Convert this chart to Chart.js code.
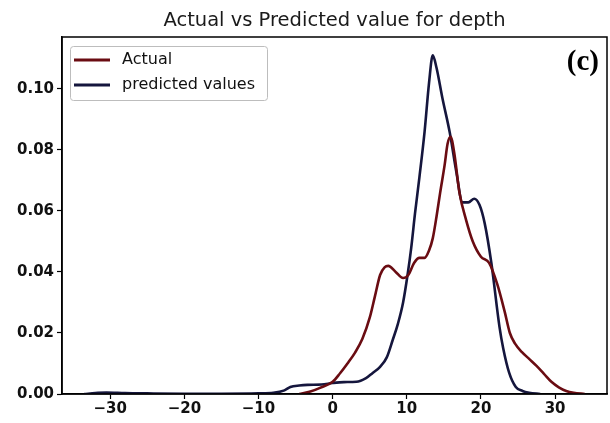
<!DOCTYPE html>
<html>
<head>
<meta charset="utf-8">
<script src="https://cdn.jsdelivr.net/npm/chart.js@4/dist/chart.umd.min.js"></script>
<style>
  html, body { margin: 0; padding: 0; background: #fff; }
  #wrap { width: 610px; height: 423px; }
</style>
</head>
<body>
<div id="wrap"><canvas id="c" width="610" height="423"></canvas></div>
<script>
const titleText = 'Actual vs Predicted value for depth';
const panelLabel = '(c)';
const seriesNames = ['Actual', 'predicted values'];
const xTicks = [-30, -20, -10, 0, 10, 20, 30];
const yTicks = [0, 0.02, 0.04, 0.06, 0.08, 0.10];

const actualX = [-4.5, -3, -1.7, 0, 1, 2, 3, 4, 5, 5.7, 6.4, 7.0, 7.5, 8.5, 9.5, 10.2, 11.0, 11.7, 12.4, 13.0, 13.5, 14.0, 14.5, 15.1, 15.5, 15.9, 16.4, 17.1, 18.0, 18.9, 20.0, 21.1, 22.2, 23.2, 23.9, 24.6, 25.5, 26.5, 27.5, 28.5, 29.5, 30.5, 31.5, 32.5, 34];
const actualY = [0, 0.0008, 0.002, 0.004, 0.0068, 0.010, 0.0135, 0.018, 0.025, 0.032, 0.039, 0.0415, 0.042, 0.040, 0.038, 0.039, 0.043, 0.0446, 0.0446, 0.047, 0.051, 0.058, 0.066, 0.075, 0.082, 0.0843, 0.079, 0.066, 0.057, 0.050, 0.045, 0.043, 0.036, 0.027, 0.020, 0.0165, 0.0138, 0.0115, 0.0092, 0.0066, 0.0040, 0.0022, 0.0010, 0.0004, 0];

const predX = [-33.5, -32, -30.5, -28, -25, -20, -15, -10, -8, -6.5, -5.7, -4.5, -3.4, -1.5, 0, 1.5, 3.2, 4.5, 5.4, 6.4, 7.3, 8.1, 8.8, 9.5, 10.1, 10.6, 11.1, 11.7, 12.4, 13.0, 13.5, 14.0, 14.8, 15.8, 16.7, 17.5, 18.3, 19.1, 19.8, 20.5, 21.4, 22.5, 23.0, 23.8, 24.7, 25.6, 26.5, 28];
const predY = [0, 0.0003, 0.0005, 0.0003, 0.0002, 0.0001, 0.0001, 0.0002, 0.0004, 0.0012, 0.0023, 0.0028, 0.003, 0.0031, 0.0036, 0.0039, 0.004, 0.0052, 0.0069, 0.0089, 0.012, 0.0177, 0.023, 0.030, 0.039, 0.048, 0.059, 0.071, 0.086, 0.102, 0.111, 0.107, 0.097, 0.0856, 0.0725, 0.0628, 0.0628, 0.064, 0.062, 0.056, 0.043, 0.022, 0.015, 0.007, 0.0023, 0.001, 0.0004, 0];

const actualColor = '#6a0c12';
const predColor = '#15163d';
const tickFont = { family: 'DejaVu Sans', size: 15, weight: 'bold' };

function toPoints(xs, ys) { return xs.map((x, i) => ({ x: x, y: ys[i] })); }

const framePlugin = {
  id: 'frameAndExtras',
  afterDraw(chart) {
    const ctx = chart.ctx;
    const a = chart.chartArea;
    ctx.save();
    // frame
    ctx.strokeStyle = '#000';
    ctx.lineWidth = 1.5;
    ctx.strokeRect(a.left, a.top, a.right - a.left, a.bottom - a.top);
    // title
    ctx.fillStyle = '#1a1a1a';
    ctx.font = '19.5px "DejaVu Sans"';
    ctx.textAlign = 'center';
    ctx.textBaseline = 'middle';
    ctx.fillText(titleText, (a.left + a.right) / 2, 21);
    // panel label
    ctx.font = 'bold 29px "Liberation Serif"';
    ctx.textAlign = 'right';
    ctx.fillStyle = '#000';
    ctx.fillText(panelLabel, a.right - 8, 63);
    // legend
    const lx = a.left + 8, ly = a.top + 9, lw = 197, lh = 54;
    ctx.fillStyle = 'rgba(255,255,255,0.85)';
    ctx.strokeStyle = '#bdbdbd';
    ctx.lineWidth = 1;
    ctx.beginPath();
    if (ctx.roundRect) ctx.roundRect(lx + 0.5, ly + 0.5, lw, lh, 3); else ctx.rect(lx + 0.5, ly + 0.5, lw, lh);
    ctx.fill();
    ctx.stroke();
    const colors = [actualColor, predColor];
    ctx.font = '16px "DejaVu Sans"';
    ctx.textAlign = 'left';
    ctx.textBaseline = 'middle';
    seriesNames.forEach((name, i) => {
      const yy = ly + 14 + i * 25;
      ctx.strokeStyle = colors[i];
      ctx.lineWidth = 3;
      ctx.beginPath();
      ctx.moveTo(lx + 4, yy);
      ctx.lineTo(lx + 40, yy);
      ctx.stroke();
      ctx.fillStyle = '#111';
      ctx.fillText(name, lx + 52, yy);
    });
    ctx.restore();
  }
};

new Chart(document.getElementById('c'), {
  type: 'line',
  data: {
    datasets: [
      { label: seriesNames[0], data: toPoints(actualX, actualY), borderColor: actualColor, borderWidth: 2.6, pointRadius: 0, fill: false, cubicInterpolationMode: 'monotone' },
      { label: seriesNames[1], data: toPoints(predX, predY), borderColor: predColor, borderWidth: 2.6, pointRadius: 0, fill: false, cubicInterpolationMode: 'monotone' }
    ]
  },
  options: {
    responsive: false,
    animation: false,
    layout: { padding: { top: 37, right: 3, left: 0, bottom: 0 } },
    plugins: { legend: { display: false }, title: { display: false }, tooltip: { enabled: false } },
    scales: {
      x: {
        type: 'linear', min: -36.5, max: 37,
        afterBuildTicks: s => { s.ticks = xTicks.map(v => ({ value: v })); },
        afterFit: s => { s.height = 29; },
        ticks: { font: tickFont, color: '#111', padding: 1, maxRotation: 0, autoSkip: false,
          callback: v => (v < 0 ? '\u2212' : '') + Math.abs(v) },
        grid: { drawOnChartArea: false, drawTicks: true, tickLength: 5, color: '#000', tickWidth: 1.2 },
        border: { display: true, color: '#000', width: 1.5 }
      },
      y: {
        type: 'linear', min: 0, max: 0.117,
        afterBuildTicks: s => { s.ticks = yTicks.map(v => ({ value: v })); },
        afterFit: s => { s.width = 62; },
        ticks: { font: tickFont, color: '#111', padding: 3, callback: v => v.toFixed(2) },
        grid: { drawOnChartArea: false, drawTicks: true, tickLength: 5, color: '#000', tickWidth: 1.2 },
        border: { display: true, color: '#000', width: 1.5 }
      }
    }
  },
  plugins: [framePlugin]
});
</script>
</body>
</html>
